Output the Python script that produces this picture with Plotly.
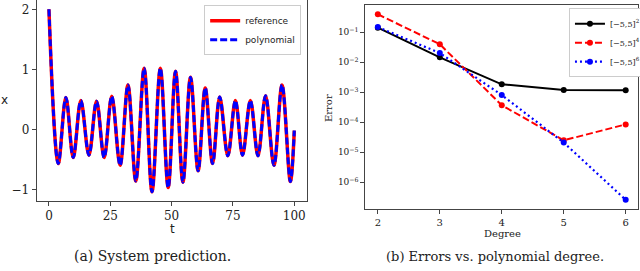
import plotly.graph_objects as go

# ---- left panel: system prediction (extrema) ----
t_pts = [0, 3.8, 6.9, 9.9, 13.0, 16.3, 19.4, 22.5, 25.6, 29.0, 32.2, 35.4, 38.8, 42.0,
         45.4, 48.6, 51.6, 54.6, 57.7, 60.8, 63.7, 66.7, 69.6, 72.9, 76.0, 78.9, 82.1,
         85.2, 88.3, 91.7, 95.0, 98.4, 100]
x_pts = [2.0, -0.57, 0.53, -0.47, 0.48, -0.43, 0.47, -0.47, 0.55, -0.6, 0.74, -0.86, 1.02,
         -1.04, 1.02, -0.97, 0.97, -0.88, 0.87, -0.69, 0.69, -0.57, 0.54, -0.44, 0.48,
         -0.43, 0.48, -0.44, 0.56, -0.6, 0.74, -0.87, -0.02]
x_ticks = [0, 25, 50, 75, 100]
y_ticks = [-1, 0, 1, 2]

# ---- right panel: errors vs degree ----
degrees = [2, 3, 4, 5, 6]
err_2 = [0.143, 0.0147, 0.00185, 0.0012, 0.00117]
err_4 = [0.4, 0.04, 3.7e-4, 2.5e-5, 8.5e-5]
err_6 = [0.15, 0.0204, 8.1e-4, 2.1e-5, 2.6e-7]
err_labels = ["[−5,5]<sup>2</sup>", "[−5,5]<sup>4</sup>", "[−5,5]<sup>6</sup>"]
log_ticks = [1e-6, 1e-5, 1e-4, 1e-3, 1e-2, 1e-1]
log_ticktext = ["10<sup>−6</sup>", "10<sup>−5</sup>", "10<sup>−4</sup>",
                "10<sup>−3</sup>", "10<sup>−2</sup>", "10<sup>−1</sup>"]

SERIF = "DejaVu Serif"
SANS = "DejaVu Sans"

fig = go.Figure()
fig.add_trace(go.Scatter(x=t_pts, y=x_pts, mode="lines", line_shape="spline",
                         line=dict(color="red", width=3.5), name="reference",
                         xaxis="x", yaxis="y", legend="legend"))
fig.add_trace(go.Scatter(x=t_pts, y=x_pts, mode="lines", line_shape="spline",
                         line=dict(color="blue", width=3, dash="7px,3px"), name="polynomial",
                         xaxis="x", yaxis="y", legend="legend"))

fig.add_trace(go.Scatter(x=degrees, y=err_2, mode="lines+markers", name=err_labels[0],
                         line=dict(color="black", width=2), marker=dict(size=6, color="black"),
                         xaxis="x2", yaxis="y2", legend="legend2"))
fig.add_trace(go.Scatter(x=degrees, y=err_4, mode="lines+markers", name=err_labels[1],
                         line=dict(color="red", width=2, dash="7px,3px"), marker=dict(size=6, color="red"),
                         xaxis="x2", yaxis="y2", legend="legend2"))
fig.add_trace(go.Scatter(x=degrees, y=err_6, mode="lines+markers", name=err_labels[2],
                         line=dict(color="blue", width=2.2, dash="2px,3px"), marker=dict(size=6, color="blue"),
                         xaxis="x2", yaxis="y2", legend="legend2"))


def ax(size):
    return dict(showgrid=False, zeroline=False, showline=True, mirror=True, automargin=False,
                linecolor="#444", linewidth=1, ticks="outside", ticklen=4,
                tickcolor="#444", tickfont=dict(family=SERIF, size=size, color="#222"))


fig.update_layout(
    width=640, height=271, margin=dict(l=0, r=0, t=0, b=0, autoexpand=False),
    paper_bgcolor="white", plot_bgcolor="white", showlegend=True,
    xaxis=dict(domain=[0.0573, 0.479], range=[-5, 105], tickvals=x_ticks, anchor="y", **ax(12)),
    yaxis=dict(domain=[0.258, 1.0], range=[-1.195, 2.155], tickvals=y_ticks, anchor="x", **ax(12)),
    xaxis2=dict(domain=[0.571, 0.997], range=[1.8, 6.2], tickvals=degrees, anchor="y2", **ax(10)),
    yaxis2=dict(domain=[0.229, 0.9815], type="log", range=[-6.89, -0.089], tickvals=log_ticks,
                ticktext=log_ticktext, anchor="x2", **ax(9)),
    legend=dict(x=0.319, y=0.981, xanchor="left", yanchor="top", bgcolor="white",
                bordercolor="#ccc", borderwidth=1, font=dict(family=SANS, size=9, color="#222"),
                tracegroupgap=0, itemwidth=30),
    legend2=dict(x=0.889, y=0.970, xanchor="left", yanchor="top", bgcolor="white",
                 bordercolor="#ccc", borderwidth=1, font=dict(family=SERIF, size=8, color="#222"),
                 tracegroupgap=0, itemwidth=30),
)

annos = [
    dict(text="x", x=4, y=100, font=dict(family=SANS, size=12)),
    dict(text="t", x=172, y=229, font=dict(family=SANS, size=12)),
    dict(text="(a) System prediction.", x=152, y=256, font=dict(family=SERIF, size=14)),
    dict(text="Error", x=329, y=108, font=dict(family=SERIF, size=10), textangle=-90),
    dict(text="Degree", x=502, y=233, font=dict(family=SERIF, size=10)),
    dict(text="(b) Errors vs. polynomial degree.", x=495, y=256, font=dict(family=SERIF, size=13)),
]
for a in annos:
    fig.add_annotation(text=a["text"], x=a["x"] / 640, y=1 - a["y"] / 271, xref="paper", yref="paper",
                       showarrow=False, xanchor="center", yanchor="middle",
                       font=dict(color="#222", **a["font"]), textangle=a.get("textangle", 0))

fig.write_html("out.html", config={"displayModeBar": False},
               post_script="document.body.style.margin='0';document.body.style.overflow='hidden';")
